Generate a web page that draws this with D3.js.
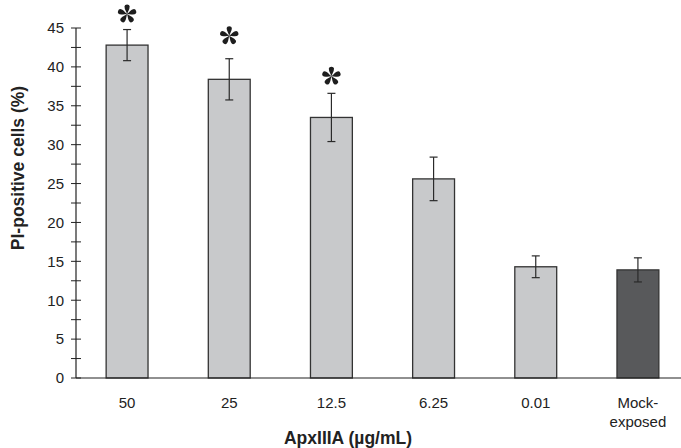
<!DOCTYPE html>
<html>
<head>
<meta charset="utf-8">
<script src="https://cdn.jsdelivr.net/npm/d3@7"></script>
<style>
  body { margin: 0; background: #fff; }
  text { font-family: "Liberation Sans", Arial, sans-serif; }
</style>
</head>
<body>
<svg id="chart"></svg>
<script>
// данные
var categories = ["50", "25", "12.5", "6.25", "0.01", "Mock-exposed"];
var values = [42.8, 38.4, 33.5, 25.6, 14.3, 13.9];
var errors = [2.0, 2.65, 3.1, 2.8, 1.4, 1.55];
// звёздочки: категория и уровень (в единицах оси y)
var starCategories = ["50", "25", "12.5"];
var starLevels = [46.8, 44.0, 38.8];
var yTicks = [0, 5, 10, 15, 20, 25, 30, 35, 40, 45];

var iWidth = 681, iHeight = 448;
var iLeft = 76, iTop = 28, iBottom = 378;

var svg = d3.select("#chart").attr("width", iWidth).attr("height", iHeight);

// шкалы
var xScale = d3.scaleBand()
    .domain(categories)
    .range([iLeft, 689])
    .paddingInner(0.59)
    .paddingOuter(0.295);

var yScale = d3.scaleLinear()
    .domain([0, 45])
    .range([iBottom, iTop]);

// ось y
var yAxis = svg.append("g")
    .attr("transform", `translate(${iLeft},0)`)
    .call(d3.axisLeft(yScale).tickValues(yTicks).tickSize(0).tickPadding(12));
yAxis.select(".domain").remove();
yAxis.selectAll("text")
    .attr("font-size", 15)
    .attr("fill", "#222")
    .attr("font-family", "Liberation Sans, Arial, sans-serif");

// засечки (пересекают ось)
svg.append("g").selectAll("line")
    .data(d3.range(0, 45.1, 2.5))
    .join("line")
    .attr("x1", iLeft - 5)
    .attr("x2", iLeft + 5)
    .attr("y1", d => yScale(d))
    .attr("y2", d => yScale(d))
    .attr("stroke", "#222")
    .attr("stroke-width", 1);

svg.append("line")
    .attr("x1", iLeft).attr("x2", iLeft)
    .attr("y1", yScale(45)).attr("y2", yScale(0))
    .attr("stroke", "#222").attr("stroke-width", 1.2);

// столбцы
svg.append("g").selectAll("rect")
    .data(values)
    .join("rect")
    .attr("x", (d, i) => xScale(categories[i]))
    .attr("y", d => yScale(d))
    .attr("width", xScale.bandwidth())
    .attr("height", d => yScale(0) - yScale(d))
    .attr("fill", (d, i) => i === 5 ? "#58595b" : "#c8c9cb")
    .attr("stroke", "#333")
    .attr("stroke-width", 1.3);

// ось x
svg.append("line")
    .attr("x1", iLeft).attr("x2", iWidth)
    .attr("y1", yScale(0)).attr("y2", yScale(0))
    .attr("stroke", "#222").attr("stroke-width", 1.2);

// планки погрешностей
var eb = svg.append("g").attr("stroke", "#2a2a2a").attr("stroke-width", 1.2);
values.forEach(function(v, i) {
    var cx = xScale(categories[i]) + xScale.bandwidth() / 2;
    var hi = yScale(v + errors[i]), lo = yScale(v - errors[i]);
    eb.append("line").attr("x1", cx).attr("x2", cx).attr("y1", hi).attr("y2", lo);
    eb.append("line").attr("x1", cx - 4).attr("x2", cx + 4).attr("y1", hi).attr("y2", hi);
    eb.append("line").attr("x1", cx - 4).attr("x2", cx + 4).attr("y1", lo).attr("y2", lo);
});

// звёздочки (5 лепестков-капель)
function starPath(r) {
    var p = "";
    for (var k = 0; k < 5; k++) {
        var a = -Math.PI / 2 + k * 2 * Math.PI / 5;
        var tipX = Math.cos(a) * r, tipY = Math.sin(a) * r;
        var w = 0.4;
        var b1x = Math.cos(a - w) * r * 0.25, b1y = Math.sin(a - w) * r * 0.25;
        var b2x = Math.cos(a + w) * r * 0.25, b2y = Math.sin(a + w) * r * 0.25;
        var c = 0.46, cr = r * 1.12;
        p += `M0,0L${b1x},${b1y}Q${Math.cos(a - c) * cr},${Math.sin(a - c) * cr} ${tipX},${tipY}` +
             `Q${Math.cos(a + c) * cr},${Math.sin(a + c) * cr} ${b2x},${b2y}Z`;
    }
    return p;
}
svg.append("g").selectAll("path")
    .data(starCategories)
    .join("path")
    .attr("transform", (d, i) => `translate(${xScale(d) + xScale.bandwidth() / 2},${yScale(starLevels[i])})`)
    .attr("d", starPath(9.5))
    .attr("fill", "#1e1e1e");

// подписи категорий
var xl = svg.append("g").attr("font-size", 15).attr("fill", "#222").attr("text-anchor", "middle");
categories.forEach(function(c, i) {
    var cx = xScale(c) + xScale.bandwidth() / 2;
    if (c === "Mock-exposed") {
        xl.append("text").attr("x", cx).attr("y", 408).text("Mock-");
        xl.append("text").attr("x", cx).attr("y", 427).text("exposed");
    } else {
        xl.append("text").attr("x", cx).attr("y", 408).text(c);
    }
});

// названия осей
svg.append("text")
    .attr("x", 348).attr("y", 444)
    .attr("text-anchor", "middle")
    .attr("font-size", 17.5).attr("font-weight", "bold").attr("fill", "#222")
    .text("ApxIIIA (µg/mL)");

svg.append("text")
    .attr("transform", "translate(24,168) rotate(-90)")
    .attr("text-anchor", "middle")
    .attr("font-size", 17.5).attr("font-weight", "bold").attr("fill", "#222")
    .text("PI-positive cells (%)");
</script>
</body>
</html>
